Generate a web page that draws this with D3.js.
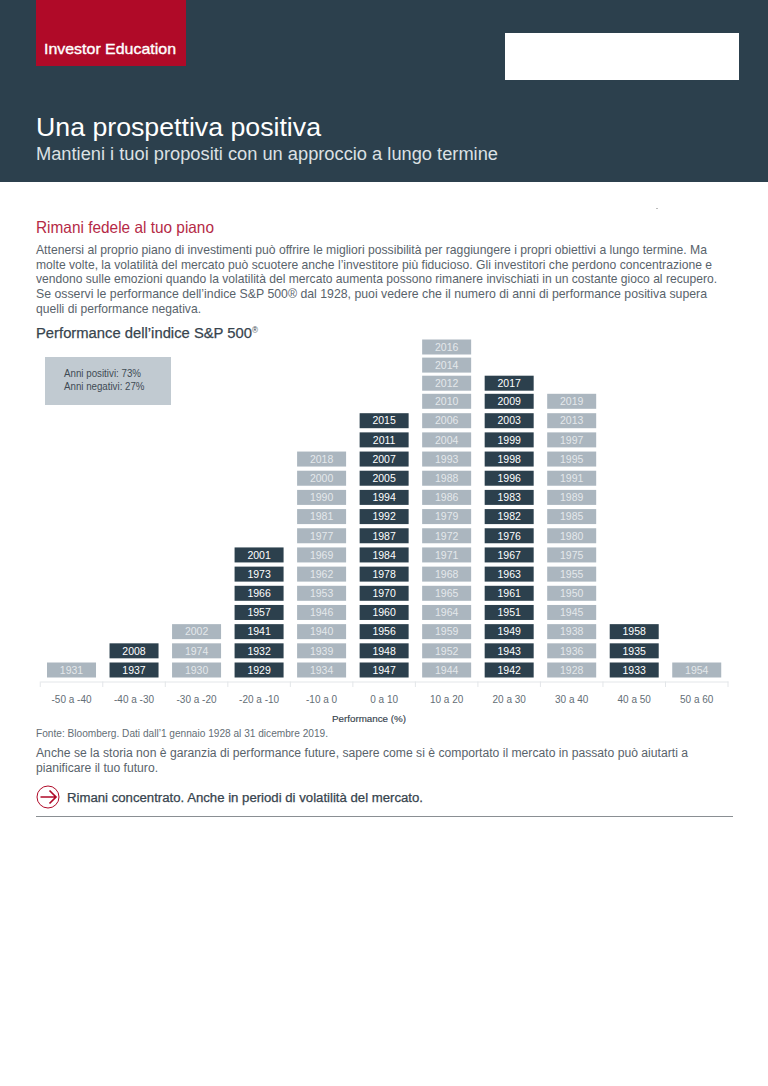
<!DOCTYPE html>
<html><head><meta charset="utf-8">
<script src="https://cdn.jsdelivr.net/npm/d3@7"></script>
<style>html,body{margin:0;padding:0;background:#fff}svg{display:block}text{font-family:"Liberation Sans",Arial,sans-serif}</style>
</head><body><div id="c"></div>
<script>
const categories=["-50 a -40","-40 a -30","-30 a -20","-20 a -10","-10 a 0","0 a 10","10 a 20","20 a 30","30 a 40","40 a 50","50 a 60"];
const yearsM50=[1931];
const yearsM40=[1937,2008];
const yearsM30=[1930,1974,2002];
const yearsM20=[1929,1932,1941,1957,1966,1973,2001];
const yearsM10=[1934,1939,1940,1946,1953,1962,1969,1977,1981,1990,2000,2018];
const yearsP0=[1947,1948,1956,1960,1970,1978,1984,1987,1992,1994,2005,2007,2011,2015];
const yearsP10=[1944,1952,1959,1964,1965,1968,1971,1972,1979,1986,1988,1993,2004,2006,2010,2012,2014,2016];
const yearsP20=[1942,1943,1949,1951,1961,1963,1967,1976,1982,1983,1996,1998,1999,2003,2009,2017];
const yearsP30=[1928,1936,1938,1945,1950,1955,1975,1980,1985,1989,1991,1995,1997,2013,2019];
const yearsP40=[1933,1935,1958];
const yearsP50=[1954];
const columns=[yearsM50,yearsM40,yearsM30,yearsM20,yearsM10,yearsP0,yearsP10,yearsP20,yearsP30,yearsP40,yearsP50];

const W=768,H=1086,DARK="#2c404d",LIGHT="#abb6bf",RED="#b00a28";
const svg=d3.select("#c").append("svg").attr("width",W).attr("height",H).attr("viewBox",`0 0 ${W} ${H}`);
svg.append("rect").attr("width",W).attr("height",H).attr("fill","#fff");

function txt(s,x,y,size,fill,len,opts={}){
  const t=svg.append("text").attr("x",x).attr("y",y).attr("font-size",size).attr("fill",fill).text(s);
  if(opts.weight)t.attr("font-weight",opts.weight);
  if(len)t.attr("textLength",len).attr("lengthAdjust","spacingAndGlyphs");
  return t;
}
svg.append("rect").attr("width",W).attr("height",182).attr("fill",DARK);
svg.append("rect").attr("x",36).attr("width",150).attr("height",66).attr("fill",RED);
svg.append("rect").attr("x",505).attr("y",33).attr("width",234).attr("height",47).attr("fill","#fff");
txt("Investor Education",44,54,14.5,"#fff",132).attr("stroke","#fff").attr("stroke-width",0.35);
txt("Una prospettiva positiva",36,136,26,"#fff",285);
txt("Mantieni i tuoi propositi con un approccio a lungo termine",36,159.5,17.5,"#dce1e4",462);
svg.append("rect").attr("x",656).attr("y",208).attr("width",2).attr("height",1).attr("fill","#bbb");

txt("Rimani fedele al tuo piano",36,233,16.5,"#b52a46",178);
const bodyLines=[
 ["Attenersi al proprio piano di investimenti può offrire le migliori possibilità per raggiungere i propri obiettivi a lungo termine. Ma",671],
 ["molte volte, la volatilità del mercato può scuotere anche l’investitore più fiducioso. Gli investitori che perdono concentrazione e",676],
 ["vendono sulle emozioni quando la volatilità del mercato aumenta possono rimanere invischiati in un costante gioco al recupero.",681],
 ["Se osservi le performance dell’indice S&P 500® dal 1928, puoi vedere che il numero di anni di performance positiva supera",671],
 ["quelli di performance negativa.",165]];
bodyLines.forEach((l,i)=>txt(l[0],36,254+i*14.7,12.2,"#59636b",l[1]));

const t=svg.append("text").attr("x",36).attr("y",338).attr("font-size",15.5).attr("fill","#37444e")
  .attr("stroke","#37444e").attr("stroke-width",0.25).attr("textLength",222).attr("lengthAdjust","spacingAndGlyphs");
t.append("tspan").text("Performance dell’indice S&P 500");
t.append("tspan").attr("font-size",8.5).attr("dy",-5).attr("stroke-width",0).text("®");

svg.append("rect").attr("x",45).attr("y",357).attr("width",126).attr("height",48).attr("fill","#c1cad1");
txt("Anni positivi: 73%",64,377,10.5,"#3f4b54",77);
txt("Anni negativi: 27%",64,390,10.5,"#3f4b54",80.5);

// chart
const x=d3.scaleBand().domain(categories).range([40.25,728]).padding(0);
const y=d3.scaleLinear().domain([0,13,14,17]).range([670,420.7,401.3,347]);
const barH=15,barW=49;
const g=svg.append("g");
columns.forEach((years,ci)=>{
  const fill=ci%2===0?LIGHT:DARK, col=ci%2===0?"#e4e8eb":"#fff";
  const cx=x(categories[ci])+x.bandwidth()/2;
  const sel=g.append("g").selectAll("g").data(years).join("g");
  sel.append("rect").attr("x",cx-barW/2).attr("y",(d,i)=>y(i)-barH/2).attr("width",barW).attr("height",barH).attr("fill",fill);
  sel.append("text").attr("x",cx).attr("y",(d,i)=>y(i)).attr("dy","0.36em").attr("text-anchor","middle").attr("font-size",10.5).attr("fill",col).text(d=>d);
});
// axis
const axisG=svg.append("g").attr("transform","translate(0,681.5)").call(d3.axisBottom(x).tickSize(0).tickPadding(14));
axisG.select(".domain").attr("stroke","#e3e6e9");
axisG.selectAll("text").attr("font-size",10).attr("fill","#646e76").attr("font-family",'"Liberation Sans",Arial,sans-serif');
const edges=categories.map(c=>x(c)).concat([x.range()[1]]);
svg.append("g").selectAll("line").data(edges).join("line")
  .attr("x1",d=>d).attr("x2",d=>d).attr("y1",681.5).attr("y2",687).attr("stroke","#e3e6e9");
txt("Performance (%)",332,722,9,"#37444e",74).attr("stroke","#37444e").attr("stroke-width",0.15);

txt("Fonte: Bloomberg. Dati dall’1 gennaio 1928 al 31 dicembre 2019.",36,737,10.5,"#646e76",292);
txt("Anche se la storia non è garanzia di performance future, sapere come si è comportato il mercato in passato può aiutarti a",36,757,12,"#59636b",652);
txt("pianificare il tuo futuro.",36,772,12,"#59636b",122);
svg.append("circle").attr("cx",48).attr("cy",797).attr("r",11).attr("fill","none").attr("stroke",RED).attr("stroke-width",1);
svg.append("path").attr("d","M40.5 797H55M49.5 790.5L56 797L49.5 803.5").attr("fill","none").attr("stroke",RED).attr("stroke-width",1.7);
txt("Rimani concentrato. Anche in periodi di volatilità del mercato.",67,802,12.5,"#37444e",356).attr("stroke","#37444e").attr("stroke-width",0.25);
svg.append("line").attr("x1",36).attr("x2",733).attr("y1",816.5).attr("y2",816.5).attr("stroke","#8a8f93").attr("stroke-width",1);
</script></body></html>
